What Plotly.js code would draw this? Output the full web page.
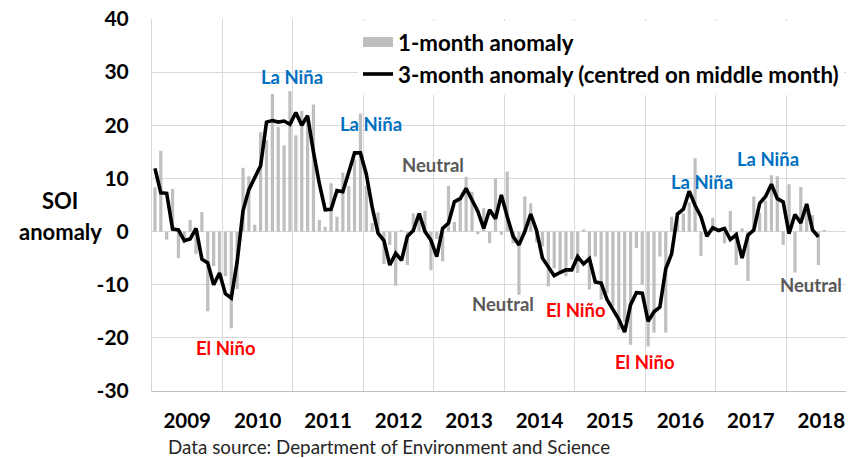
<!DOCTYPE html>
<html><head><meta charset="utf-8">
<script src="https://cdn.plot.ly/plotly-3.0.1.min.js"></script>
<style>html,body{margin:0;padding:0;background:#fff}#chart{width:849px;height:458px}</style>
</head><body><div id="chart"></div>
<script>
// Monthly SOI, Jan 2009 .. Jul 2018
const yearLabels = ['2009','2010','2011','2012','2013','2014','2015','2016','2017','2018'];
const yTickValues = [-30,-20,-10,0,10,20,30,40];
const yTickLabels = ['-30','-20','-10','0','10','20','30','40'];

const oneMonth = [
  8.3, 15.2, -1.5, 8.0, -5.0, -2.2, 2.2, -4.2, 3.7, -15.0, -6.5, -8.5,        // 2009
  -8.4, -18.2, -10.8, 12.0, 10.4, 1.3, 18.7, 17.2, 25.9, 19.7, 16.2, 26.4,    // 2010
  18.1, 22.7, 21.6, 23.9, 2.2, 0.9, 9.1, 2.8, 11.1, 8.6, 13.6, 22.2,         // 2011
  8.6, 1.6, 3.6, -6.1, -2.5, -10.2, 0.3, -6.3, 3.4, 3.4, 3.9, -7.3,           // 2012
  -1.4, -5.6, 8.6, 1.8, 6.4, 10.3, 7.5, -0.5, 4.4, -2.2, 10.0, -0.6,          // 2013
  11.3, -2.2, -11.9, 6.6, 5.3, -2.0, -2.8, -10.3, -6.9, -7.8, -8.4, -5.3,     // 2014
  -7.8, 0.4, -10.9, -4.7, -12.8, -11.6, -14.0, -18.5, -17.0, -21.3, -3.1, -10.0, // 2015
  -21.6, -19.0, -4.7, -19.0, 2.8, 3.6, 3.4, 5.5, 13.8, -4.6, -0.7, 2.6,       // 2016
  0.2, -2.2, 3.9, -6.3, 0.6, -9.3, 6.6, 3.5, 5.8, 10.6, 10.4, -2.5,           // 2017
  8.9, -7.7, 8.4, 4.1, 3.1, -6.3, 0.3                                          // 2018
];

const threeMonth = [
  11.9, 7.3, 7.2, 0.5, 0.3, -1.7, -1.4, 0.6, -5.2, -5.9, -10.0, -7.8,
  -11.7, -12.5, -5.7, 3.9, 7.9, 10.1, 12.4, 20.6, 20.9, 20.6, 20.8, 20.2,
  22.4, 20.0, 21.8, 15.0, 9.0, 4.1, 4.2, 7.7, 7.5, 11.1, 14.8, 14.8,
  10.8, 4.6, -0.3, -1.7, -6.3, -4.1, -5.4, -0.9, 0.2, 3.4, 0.0, -1.6,
  -4.7, 0.6, 1.6, 5.6, 6.2, 8.1, 5.8, 3.8, 0.6, 4.1, 2.4, 6.9,
  2.8, -0.9, -2.5, 0.0, 3.3, 0.2, -5.0, -6.7, -8.3, -7.7, -7.2, -7.2,
  -4.7, -6.1, -5.1, -9.5, -9.7, -12.8, -14.7, -16.5, -18.9, -13.8, -11.5, -11.6,
  -16.9, -15.1, -14.2, -7.0, -4.2, 3.3, 4.2, 7.6, 4.9, 2.8, -0.9, 0.7,
  0.2, 0.6, -1.5, -0.6, -5.0, -0.7, 0.3, 5.3, 6.6, 8.9, 6.2, 5.6,
  -0.4, 3.2, 1.6, 5.2, 0.3, -1.0
];

const phaseText = ['La Niña','La Niña','Neutral','Neutral','El Niño','El Niño','El Niño','La Niña','La Niña','Neutral'];
const phaseMonth = [23.4, 36.8, 47.4, 59.3, 12.1, 71.7, 83.4, 93.2, 104.4, 111.8];
const phaseValue = [29.0, 20.25, 12.5, -13.6, -21.9, -14.8, -24.5, 9.25, 13.7, -10.1];
const phaseColor = {'La Niña':'#0070C0','El Niño':'#FF0000','Neutral':'#595959'};

const monthIdx1 = oneMonth.map((_, i) => i);
const monthIdx3 = threeMonth.map((_, i) => i);

const FONT = 'Lato, "Open Sans", sans-serif';
const BAR_GREY = '#BFBFBF';

const traces = [
  // bars (legend shown via a wide swatch entry below)
  {type:'bar', x: monthIdx1, y: oneMonth, name:'1-month anomaly', showlegend:false,
   legendgroup:'m1', marker:{color:BAR_GREY, line:{width:0}}, hoverinfo:'y'},
  // legend swatch only (no data drawn): wide grey block like the original legend key
  {type:'scatter', mode:'lines', x:[null], y:[null], name:'1-month anomaly',
   legendgroup:'m1', line:{color:BAR_GREY, width:12}, hoverinfo:'skip'},
  {type:'scatter', mode:'lines', x: monthIdx3, y: threeMonth,
   name:'3-month anomaly (centred on middle month)',
   line:{color:'#000000', width:3.6}, hoverinfo:'y'}
];

const annotations = phaseText.map((t, i) => ({
  x: phaseMonth[i], y: phaseValue[i], xref:'x', yref:'y', text: t, showarrow:false,
  xanchor:'center', yanchor:'middle',
  font:{family:FONT, size:18.5, weight:'bold', color: phaseColor[t]}
}));
annotations.push(
  {xref:'paper', yref:'paper', x:(60-152)/694, xanchor:'center', y:1-(200-19)/372, yanchor:'middle',
   text:'SOI', showarrow:false,
   font:{family:FONT, size:22, weight:'bold', color:'#000'}},
  {xref:'paper', yref:'paper', x:(60-152)/694, xanchor:'center', y:1-(231-19)/372, yanchor:'middle',
   text:'anomaly', showarrow:false,
   font:{family:FONT, size:22, weight:'bold', color:'#000'}},
  {xref:'paper', yref:'paper', x:(166-152)/694, xanchor:'left', y:1-(446-19)/372, yanchor:'middle',
   text:'Data source: Department of Environment and Science', showarrow:false,
   font:{family:FONT, size:18.8, color:'#262626'}}
);

const layout = {
  width:849, height:458,
  margin:{l:152, r:3, t:19, b:67, pad:0},
  paper_bgcolor:'#fff', plot_bgcolor:'#fff',
  font:{family:FONT, color:'#000'},
  bargap:0.45,
  showlegend:true,
  legend:{x:(358-152)/694, xanchor:'left', y:1-(21-19)/372, yanchor:'top',
    bgcolor:'#ffffff', borderwidth:0, traceorder:'normal', tracegroupgap:0,
    font:{family:FONT, size:22.3, weight:'bold', color:'#000'}},
  xaxis:{range:[-0.5,117.7], tickmode:'array',
    tickvals: yearLabels.map((_, i) => 5.5 + 12*i), ticktext: yearLabels,
    showgrid:false, zeroline:false, showline:true, linecolor:'#BFBFBF', linewidth:1,
    ticks:'', tickfont:{family:FONT, size:20.5, weight:'bold', color:'#000'},
    ticklabelstandoff:11,
    minor:{tick0:-0.5, dtick:12, showgrid:true, gridcolor:'#D9D9D9', gridwidth:1, ticks:''},
    fixedrange:true},
  yaxis:{range:[-30,40], tickmode:'array', tickvals:yTickValues, ticktext:yTickLabels,
    showgrid:true, gridcolor:'#D9D9D9', gridwidth:1, zeroline:false,
    showline:true, linecolor:'#D9D9D9', linewidth:1,
    ticks:'', tickfont:{family:FONT, size:21, weight:'bold', color:'#000'},
    ticklabelstandoff:18, fixedrange:true},
  annotations: annotations
};

Plotly.newPlot('chart', traces, layout, {displayModeBar:false, staticPlot:true});
</script>
</body></html>
